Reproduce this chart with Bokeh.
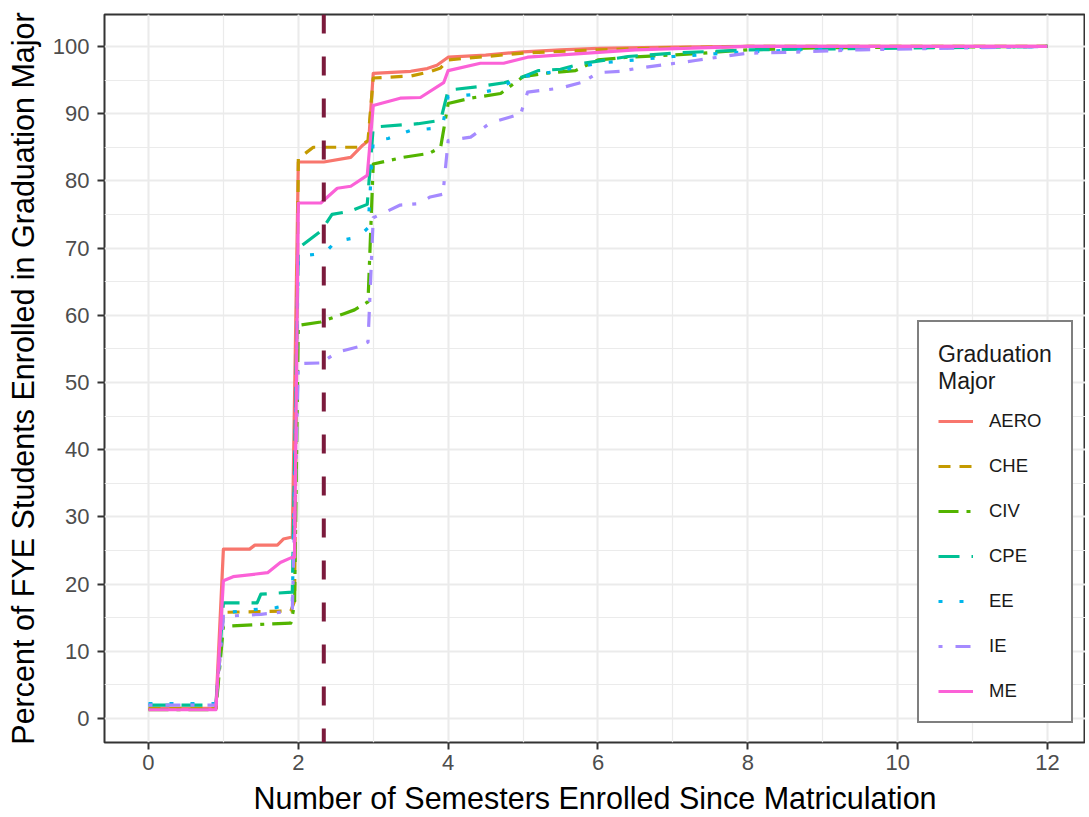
from bokeh.plotting import figure
from bokeh.models import (Range1d, SingleIntervalTicker, Legend, LegendItem, Span)
from bokeh.embed import file_html
from bokeh.resources import INLINE

# ---------------- data ----------------
majors = ["AERO", "CHE", "CIV", "CPE", "EE", "IE", "ME"]
colors = ["#F8766D", "#C49A00", "#53B400", "#00C094", "#00B6EB", "#A58AFF", "#FB61D7"]

aero_x = [0, 0.9, 1.0, 1.35, 1.42, 1.72, 1.8, 1.92, 2.0, 2.34, 2.7, 2.86, 2.94, 3.0, 3.5, 3.72, 3.85, 4.0, 4.5, 5.0, 5.5, 6.0, 7.0, 8.0, 12.0]
aero_y = [1.5, 1.5, 25.2, 25.2, 25.8, 25.8, 26.7, 27.0, 82.8, 82.8, 83.5, 85.3, 86.0, 96.0, 96.3, 96.7, 97.2, 98.4, 98.7, 99.2, 99.5, 99.7, 99.9, 100, 100]

che_x = [0, 0.9, 1.0, 1.9, 1.95, 2.0, 2.2, 2.8, 2.93, 3.0, 3.5, 3.75, 3.9, 4.0, 4.5, 5.0, 6.0, 7.0, 8.0, 12.0]
che_y = [1.5, 1.5, 15.8, 16.0, 17.5, 83.3, 85.0, 85.0, 86.0, 95.3, 95.6, 96.2, 96.8, 98.0, 98.5, 99.0, 99.5, 99.8, 100, 100]

civ_x = [0, 0.9, 1.0, 1.5, 1.9, 1.95, 2.0, 2.3, 2.6, 2.75, 2.93, 3.0, 3.4, 3.75, 3.9, 4.0, 4.3, 4.7, 5.0, 5.3, 5.7, 6.0, 6.4, 6.8, 7.4, 8.0, 9.0, 12.0]
civ_y = [1.3, 1.3, 13.7, 14.0, 14.2, 17.0, 58.5, 59.0, 60.2, 60.8, 62.0, 82.5, 83.5, 84.1, 85.0, 91.5, 92.3, 93.0, 95.5, 96.0, 96.4, 98.0, 98.4, 98.6, 99.0, 99.5, 99.8, 100]

cpe_x = [0, 0.9, 1.0, 1.45, 1.5, 1.92, 2.0, 2.3, 2.45, 2.7, 2.92, 3.0, 3.6, 3.9, 4.0, 4.4, 4.75, 5.0, 5.2, 5.5, 5.8, 6.0, 6.4, 7.0, 8.0, 12.0]
cpe_y = [2.0, 2.0, 17.2, 17.2, 18.5, 18.8, 70.0, 72.5, 75.0, 75.5, 76.5, 88.0, 88.5, 89.0, 93.5, 94.0, 94.6, 95.5, 96.4, 96.6, 97.5, 97.8, 98.5, 99.0, 99.5, 100]

ee_x = [0, 0.9, 1.0, 1.4, 1.7, 1.92, 2.0, 2.35, 2.5, 2.8, 2.93, 3.0, 3.2, 3.5, 3.8, 3.93, 4.0, 4.3, 4.6, 5.0, 5.5, 6.0, 7.0, 8.0, 9.0, 12.0]
ee_y = [2.2, 2.2, 15.7, 16.2, 16.5, 17.0, 68.8, 69.2, 71.0, 71.6, 73.0, 86.0, 86.3, 87.5, 87.8, 88.5, 92.5, 92.8, 93.5, 95.5, 96.4, 97.5, 98.5, 99.2, 99.6, 100]

ie_x = [0, 0.9, 1.0, 1.5, 1.92, 2.0, 2.3, 2.52, 2.8, 2.93, 3.0, 3.36, 3.6, 3.76, 3.93, 4.0, 4.3, 4.56, 4.83, 4.97, 5.06, 5.5, 5.8, 6.0, 6.3, 6.5, 6.9, 7.3, 7.6, 8.0, 8.5, 9.5, 12.0]
ie_y = [2.0, 2.0, 15.2, 15.5, 16.0, 52.8, 52.9, 54.5, 55.3, 56.0, 74.5, 76.4, 76.6, 77.6, 78.0, 86.0, 86.5, 88.6, 89.5, 90.0, 93.2, 93.8, 94.7, 96.1, 96.3, 96.7, 97.3, 97.9, 98.4, 99.0, 99.1, 99.5, 100]

me_x = [0, 0.9, 1.0, 1.13, 1.59, 1.76, 1.9, 1.95, 2.0, 2.3, 2.52, 2.7, 2.92, 3.0, 3.36, 3.63, 3.94, 4.0, 4.43, 4.74, 5.06, 5.46, 5.86, 6.5, 8.0, 12.0]
me_y = [1.3, 1.3, 20.5, 21.1, 21.7, 23.2, 23.9, 24.0, 76.7, 76.7, 78.9, 79.2, 80.8, 91.2, 92.3, 92.4, 94.6, 96.4, 97.5, 97.5, 98.4, 98.7, 99.0, 99.5, 100, 100]

series_x = [aero_x, che_x, civ_x, cpe_x, ee_x, ie_x, me_x]
series_y = [aero_y, che_y, civ_y, cpe_y, ee_y, ie_y, me_y]
dashes = ["solid", "12 9", "20 8 4 8", "21 12", "4 17", "4 13 15 10", "solid"]

vline_x = 2.34

# ---------------- figure ----------------
p = figure(width=1085, height=817, output_backend="svg", toolbar_location=None,
           x_range=Range1d(-0.587, 12.507), y_range=Range1d(-3.57, 104.75),
           min_border_left=104, min_border_right=0, min_border_top=14, min_border_bottom=74)
p.background_fill_color = "white"
p.border_fill_color = "white"
p.outline_line_color = "#333333"
p.outline_line_width = 2

p.xaxis.ticker = SingleIntervalTicker(interval=2, num_minor_ticks=2)
p.yaxis.ticker = SingleIntervalTicker(interval=10, num_minor_ticks=2)
p.xgrid.ticker = p.xaxis.ticker
p.ygrid.ticker = p.yaxis.ticker

for g in (p.xgrid, p.ygrid):
    g.grid_line_color = "#EBEBEB"
    g.grid_line_width = 2
    g.minor_grid_line_color = "#EBEBEB"
    g.minor_grid_line_width = 1.2

for ax in (p.xaxis, p.yaxis):
    ax.axis_line_color = None
    ax.major_tick_line_color = "#333333"
    ax.major_tick_line_width = 2
    ax.major_tick_out = 7
    ax.major_tick_in = 0
    ax.minor_tick_line_color = None
    ax.major_label_text_font = "Liberation Sans"
    ax.major_label_text_font_size = "22px"
    ax.major_label_text_color = "#4D4D4D"
    ax.axis_label_text_font = "Liberation Sans"
    ax.axis_label_text_font_size = "30.5px"
    ax.axis_label_text_font_style = "normal"
    ax.axis_label_text_color = "black"

p.xaxis.axis_label = "Number of Semesters Enrolled Since Matriculation"
p.yaxis.axis_label = "Percent of FYE Students Enrolled in Graduation Major"
p.xaxis.major_label_standoff = 5
p.yaxis.major_label_standoff = 8
p.xaxis.axis_label_standoff = 8
p.yaxis.axis_label_standoff = 10

items = []
for name, c, xs, ys, d in zip(majors, colors, series_x, series_y, dashes):
    r = p.line(xs, ys, line_color=c, line_width=3.2, line_dash=d, line_join="round")
    items.append(LegendItem(label=name, renderers=[r]))

p.add_layout(Span(location=vline_x, dimension="height", line_color="#7B1A3C",
                  line_width=4, line_dash="19 23"))

legend = Legend(items=items, location=(813, 19), title="Graduation\nMajor")
legend.title_text_font = "Liberation Sans"
legend.title_text_font_size = "23px"
legend.title_text_font_style = "normal"
legend.title_text_color = "#1a1a1a"
legend.title_standoff = 15
legend.label_text_font = "Liberation Sans"
legend.label_text_font_size = "18.5px"
legend.label_text_color = "#1a1a1a"
legend.glyph_width = 35
legend.glyph_height = 20
legend.label_height = 20
legend.label_standoff = 16
legend.spacing = 23
legend.padding = 19
legend.margin = 0
legend.border_line_color = "black"
legend.border_line_width = 2.5
legend.background_fill_color = "white"
legend.background_fill_alpha = 1
p.add_layout(legend, "center")

open("out.html", "w").write(file_html(p, INLINE))
